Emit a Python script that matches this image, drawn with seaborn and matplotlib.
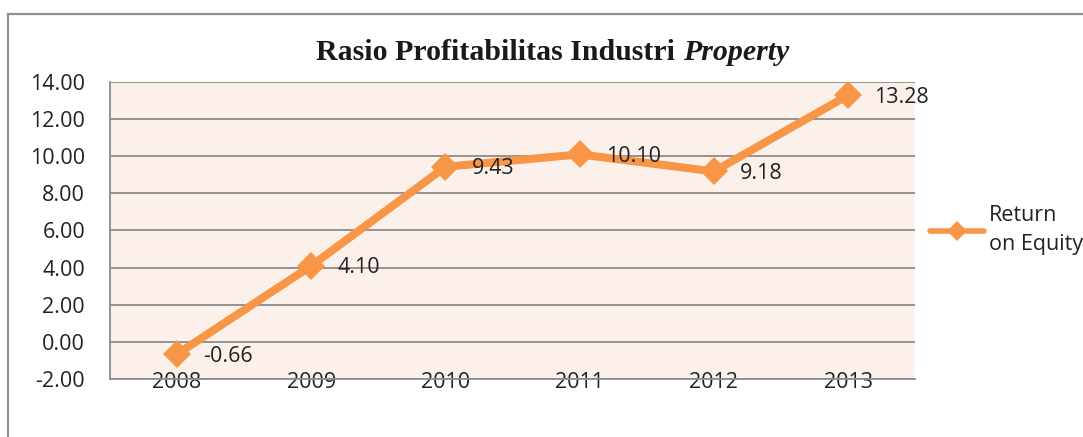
import matplotlib.pyplot as plt
import seaborn as sns
import pandas as pd
from matplotlib.patches import Rectangle
from matplotlib.lines import Line2D

# data
years = ['2008', '2009', '2010', '2011', '2012', '2013']
roe = [-0.66, 4.10, 9.43, 10.10, 9.18, 13.28]
y_ticks = [-2, 0, 2, 4, 6, 8, 10, 12, 14]

df = pd.DataFrame({'Tahun': years, 'ROE': roe})

sns.set_style('white')
plt.rcParams['font.family'] = ['Open Sans', 'DejaVu Sans']

orange = '#F79646'
grid_c = '#8C8C8C'
txt_c = '#222222'
fs = 15.5

fig = plt.figure(figsize=(10.83, 4.37), dpi=100)
ax = fig.add_axes([0.1016, 0.1327, 0.7434, 0.6797])
ax.set_facecolor('#FCF0EA')

# outer frame of the chart object (open at right and bottom)
fig.patches.append(Rectangle((8 / 1083, -0.1), 1.2, 1 - 14 / 437 + 0.1,
                             transform=fig.transFigure, fill=False,
                             edgecolor='#8E8E8E', linewidth=1.6))

sns.lineplot(data=df, x='Tahun', y='ROE', ax=ax, color=orange, linewidth=5.8,
             marker='D', markersize=14, markeredgewidth=0, legend=False)

for i, v in enumerate(roe):
    ax.annotate(f'{v:.2f}', (i, v), xytext=(19, -1.5), textcoords='offset points',
                ha='left', va='center', fontsize=fs, color=txt_c)

ax.set_ylim(-2, 14)
ax.set_xlim(-0.5, 5.5)
ax.set_yticks(y_ticks)
ax.set_yticklabels([f'{t:.2f}' for t in y_ticks])
ax.yaxis.grid(True, color=grid_c, linewidth=1.3)
ax.set_axisbelow(True)
ax.set_xlabel('')
ax.set_ylabel('')

for s in ['top', 'right']:
    ax.spines[s].set_visible(False)
for s in ['left', 'bottom']:
    ax.spines[s].set_color(grid_c)
    ax.spines[s].set_linewidth(1.3)

ax.tick_params(axis='y', length=0, pad=18, labelsize=fs, labelcolor=txt_c)
ax.tick_params(axis='x', length=0, pad=-5, labelsize=fs, labelcolor=txt_c)

handle = Line2D([], [], color=orange, linewidth=4, marker='D', markersize=10,
                markeredgewidth=0)
leg = ax.legend([handle], ['Return\non Equity'], loc='center left',
                bbox_to_anchor=(0.995, 0.5), frameon=False, handlelength=2.5,
                handletextpad=0.2, fontsize=fs, labelcolor=txt_c)
leg.get_texts()[0].set_linespacing(1.5)

tx = 683 / 1083
ty = 1 - 53 / 437
fig.text(tx, ty, 'Rasio Profitabilitas Industri ', ha='right', va='center',
         fontsize=21.5, fontweight='bold', family='Liberation Serif', color='#1A1A1A')
fig.text(tx, ty, 'Property', ha='left', va='center',
         fontsize=21.5, fontweight='bold', fontstyle='italic', family='Liberation Serif',
         color='#1A1A1A')

fig.savefig('out.png', dpi=100)
